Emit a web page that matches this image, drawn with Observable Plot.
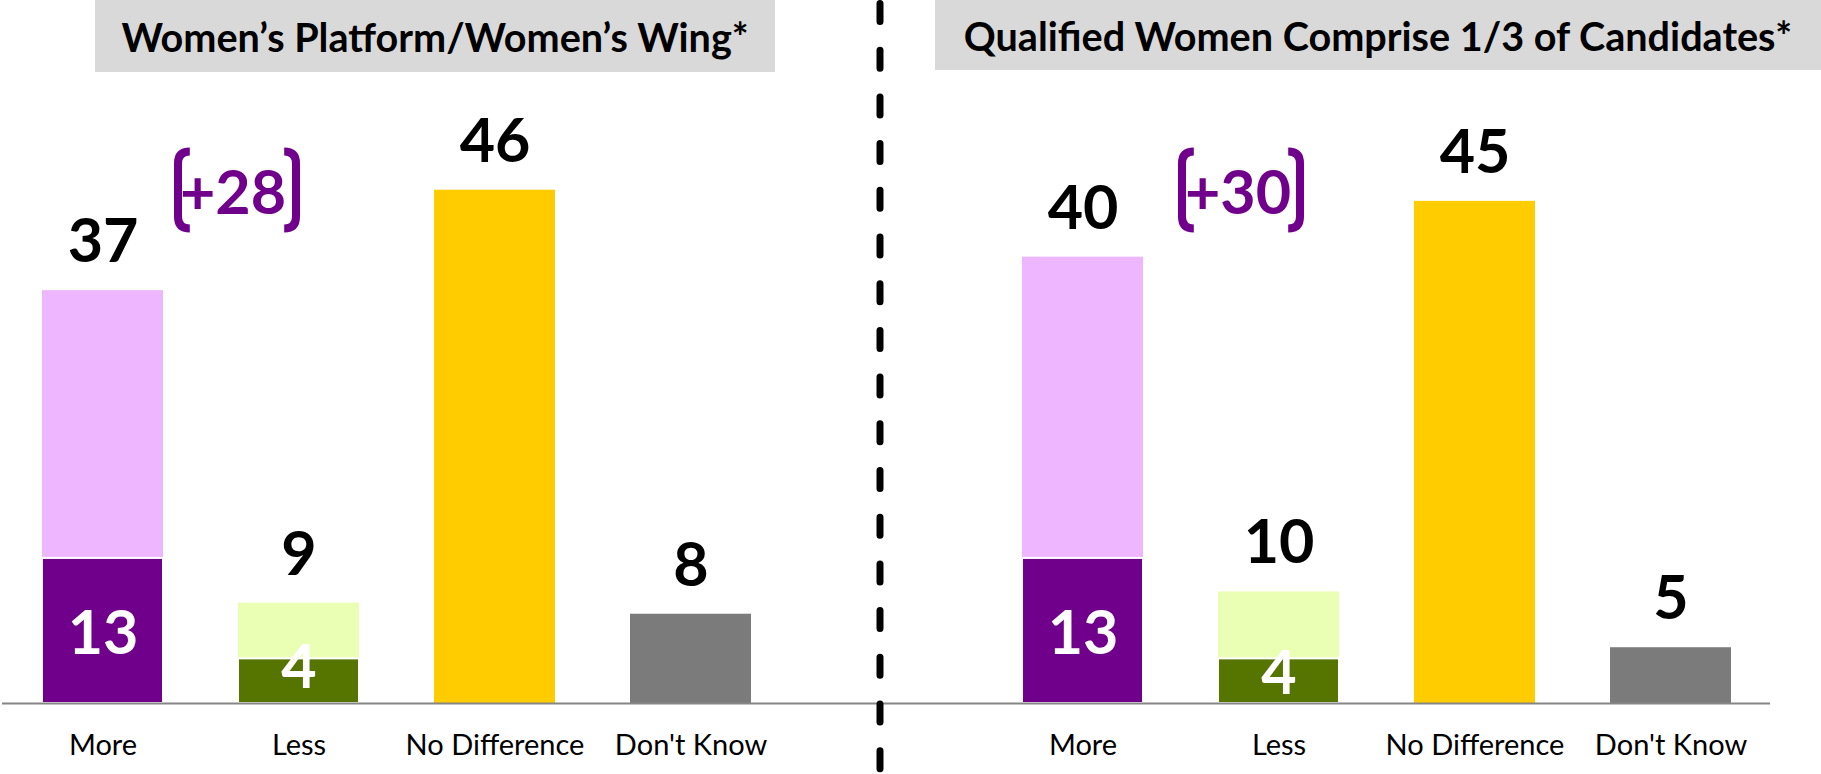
<!DOCTYPE html>
<html>
<head>
<meta charset="utf-8">
<script src="https://cdn.jsdelivr.net/npm/d3@7"></script>
<script src="https://cdn.jsdelivr.net/npm/@observablehq/plot@0.6"></script>
<style>
  body { margin: 0; background: #fff; }
  #wrap { position: relative; width: 1821px; height: 774px; font-family: Lato, "Open Sans", sans-serif; }
  #chart { position: absolute; left: 0; top: 0; }
  .title { position: absolute; top: 0; background: #d9d9d9; display: flex; align-items: center; justify-content: center;
           font-weight: 700; font-size: 39.6px; color: #000; white-space: nowrap; }
  #t0 { left: 95px; width: 680px; height: 72px; }
  #t1 { left: 935px; width: 886px; height: 70px; }
</style>
</head>
<body>
<div id="wrap">
  <div id="chart"></div>
  <div class="title" id="t0"></div>
  <div class="title" id="t1"></div>
</div>
<script>
// ---- data ----
const panelTitles = ["Women\u2019s Platform/Women\u2019s Wing*", "Qualified Women Comprise 1/3 of Candidates*"];
const panelKeys = ["L", "R"];
const categories = ["More", "Less", "No Difference", "Don't Know"];
const totalsLeft = [37, 9, 46, 8];
const totalsRight = [40, 10, 45, 5];
const strongLeft = [13, 4, null, null];
const strongRight = [13, 4, null, null];

// ---- styles ----
const darkColors = ["#70008C", "#567500"];
const lightColors = ["#EEB6FF", "#EAFFB4"];
const solidColors = [null, null, "#FFCC00", "#7B7B7B"];
const purple = "#70008C";
const annotTextDx = [130, 155];
const annotBracketDx = [134, 158];
const smallLabelDy = [-13, -7];

document.getElementById("t0").textContent = panelTitles[0];
document.getElementById("t1").textContent = panelTitles[1];

const totals = [totalsLeft, totalsRight];
const strongs = [strongLeft, strongRight];
const key = (p, c) => `${p}|${c}`;
const domain = [...categories.map(c => key("L", c)), "gap", ...categories.map(c => key("R", c))];

const segs = [], totRows = [], strongRows = [], annotRows = [];
panelKeys.forEach((p, pi) => {
  categories.forEach((c, ci) => {
    const t = totals[pi][ci], s = strongs[pi][ci];
    if (s != null) {
      segs.push({k: key(p, c), y1: s, y2: t, fill: lightColors[ci], stroke: "none"});
      segs.push({k: key(p, c), y1: 0, y2: s, fill: darkColors[ci], stroke: "white"});
      strongRows.push({k: key(p, c), v: s, pi, big: s >= 8});
    } else {
      segs.push({k: key(p, c), y1: 0, y2: t, fill: solidColors[ci], stroke: "none"});
    }
    totRows.push({k: key(p, c), v: t});
  });
  annotRows.push({k: key(p, "More"), pi, net: totals[pi][0] - totals[pi][1]});
});

const bracketPair = {
  draw(ctx, size) {
    const w = Math.sqrt(size / Math.PI), h = w * 0.6525, c = w * 0.2;
    ctx.moveTo(-w + c, -h);
    ctx.quadraticCurveTo(-w, -h, -w, -h + c);
    ctx.lineTo(-w, h - c);
    ctx.quadraticCurveTo(-w, h, -w + c, h);
    ctx.moveTo(w - c, -h);
    ctx.quadraticCurveTo(w, -h, w, -h + c);
    ctx.lineTo(w, h - c);
    ctx.quadraticCurveTo(w, h, w - c, h);
  }
};

const numFont = {fontSize: 61, fontWeight: 700};

const plot = Plot.plot({
  width: 1821,
  height: 774,
  marginTop: 0,
  marginBottom: 71,
  marginLeft: 2,
  marginRight: 51,
  style: {fontFamily: "Lato, 'Open Sans', sans-serif", background: "white", overflow: "visible"},
  x: {type: "band", domain, paddingInner: 0.385, paddingOuter: 0.1925, axis: null, label: null},
  y: {domain: [0, 63], axis: null, label: null},
  marks: [
    Plot.barY(segs, {x: "k", y1: "y1", y2: "y2", fill: "fill", stroke: "stroke", strokeWidth: 2}),
    Plot.ruleY([0], {stroke: "#868686", strokeWidth: 2}),
    Plot.ruleX(["gap"], {x: d => d, dx: -7, stroke: "black", strokeWidth: 7, strokeLinecap: "round",
      strokeDasharray: "18,28.7", strokeDashoffset: -3.5, insetBottom: -71}),
    Plot.text(totRows, {x: "k", y: "v", text: d => String(d.v), lineAnchor: "bottom", dy: -28.5, fill: "black", ...numFont}),
    Plot.text(strongRows.filter(d => d.big), {x: "k", y: d => d.v / 2, text: d => String(d.v), lineAnchor: "middle", dy: 4, fill: "white", ...numFont}),
    ...panelKeys.map((p, pi) =>
      Plot.text(strongRows.filter(d => !d.big && d.pi === pi), {x: "k", y: d => d.v / 2, text: d => String(d.v), lineAnchor: "middle", dy: smallLabelDy[pi], fill: "white", ...numFont})),
    ...panelKeys.map((p, pi) =>
      Plot.text(annotRows.filter(d => d.pi === pi), {x: "k", frameAnchor: "top", text: d => `+${d.net}`, lineAnchor: "middle", dx: annotTextDx[pi], dy: 194, fill: purple, ...numFont})),
    ...panelKeys.map((p, pi) =>
      Plot.dot(annotRows.filter(d => d.pi === pi), {x: "k", frameAnchor: "top", dx: annotBracketDx[pi], dy: 189.5, r: 59, symbol: bracketPair, fill: "none", stroke: purple, strokeWidth: 8})),
    Plot.axisX({ticks: domain.filter(d => d !== "gap"), tickFormat: d => d.split("|")[1] ?? "", tickSize: 0, tickPadding: 31, fontSize: 29, fill: "black", label: null})
  ]
});
document.getElementById("chart").appendChild(plot);
</script>
</body>
</html>
